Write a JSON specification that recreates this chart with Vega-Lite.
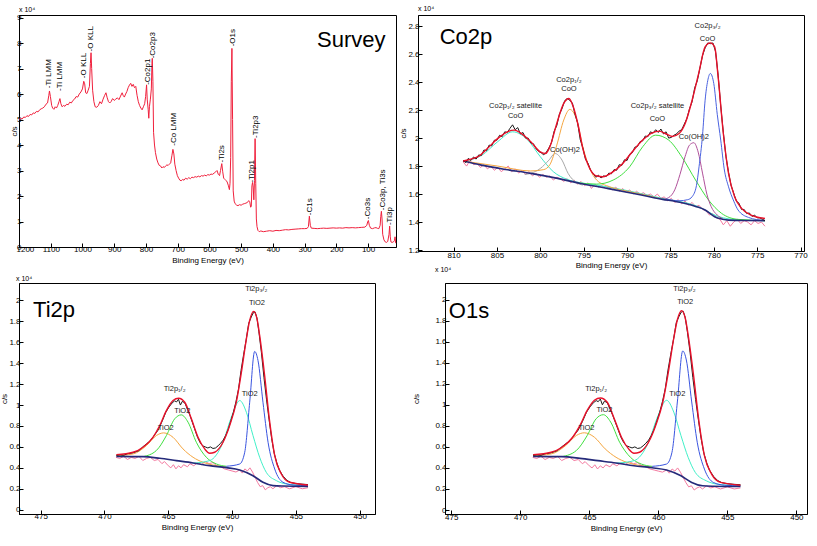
{
"$schema": "https://vega.github.io/schema/vega-lite/v6.json",
"padding": {"left": 0, "top": 4, "right": 0, "bottom": 0},
"background": "white",
"config": {
 "view": {"stroke": "black", "strokeWidth": 1},
 "axis": {"labelFont": "Liberation Sans", "labelFontSize": 8, "labelColor": "#000", "titleFont": "Liberation Sans", "titleFontSize": 8, "titleFontWeight": "normal", "titleColor": "#000", "domainColor": "#000", "tickColor": "#000", "tickSize": -4, "grid": false, "labelFlush": false, "labelOverlap": false, "tickCount": 40},
 "title": {"font": "Liberation Sans", "fontSize": 7, "fontWeight": "normal", "anchor": "start", "frame": "group", "color": "#000"},
 "text": {"font": "Liberation Sans", "fontSize": 7.5, "color": "#222"}
},
"datasets": {
 "big": [
  {"p": "survey", "t": "Survey", "x": 261, "y": 7.85},
  {"p": "co", "t": "Co2p", "x": 811.6, "y": 2.676},
  {"p": "ti", "t": "Ti2p", "x": 475.6, "y": 1.84},
  {"p": "o", "t": "O1s", "x": 475.17, "y": 1.83}
 ],
 "sv_lab": [
  {"t": "-Ti LMM", "x": 1104, "y": 6.23},
  {"t": "-Ti LMM", "x": 1070, "y": 6.12},
  {"t": "-O KLL", "x": 994, "y": 6.62},
  {"t": "-O KLL", "x": 973, "y": 7.67},
  {"t": "-Co2p1", "x": 795, "y": 6.36},
  {"t": "-Co2p3", "x": 779, "y": 7.4},
  {"t": "-Co LMM", "x": 710, "y": 3.97},
  {"t": "-Ti2s", "x": 561, "y": 3.31},
  {"t": "-O1s", "x": 527, "y": 7.87},
  {"t": "-Ti2p1", "x": 466, "y": 2.53},
  {"t": "-Ti2p3", "x": 453, "y": 4.28},
  {"t": "-C1s", "x": 282, "y": 1.25},
  {"t": "-Co3s", "x": 101, "y": 1.09},
  {"t": "-Co3p, Ti3s", "x": 54, "y": 1.44},
  {"t": "-Ti3p", "x": 30, "y": 0.86}
 ],
 "co_lab": [
  {"t": "Co2p₁/₂ satellite", "x": 802.85, "y": 2.229},
  {"t": "CoO", "x": 802.85, "y": 2.16},
  {"t": "Co2p₁/₂", "x": 796.7, "y": 2.414},
  {"t": "CoO", "x": 796.7, "y": 2.35},
  {"t": "Co(OH)2", "x": 797.15, "y": 1.912},
  {"t": "Co2p₃/₂ satellite", "x": 786.5, "y": 2.229},
  {"t": "CoO", "x": 786.5, "y": 2.136},
  {"t": "Co(OH)2", "x": 782.3, "y": 2.005},
  {"t": "Co2p₃/₂", "x": 780.72, "y": 2.80},
  {"t": "CoO", "x": 780.72, "y": 2.705}
 ],
 "ti_lab": [
  {"t": "Ti2p₃/₂", "x": 458.1, "y": 2.105},
  {"t": "TiO2", "x": 458.05, "y": 1.978},
  {"t": "Ti2p₁/₂", "x": 464.5, "y": 1.155},
  {"t": "TiO2", "x": 458.62, "y": 1.107},
  {"t": "TiO2", "x": 463.9, "y": 0.947},
  {"t": "TiO2", "x": 465.2, "y": 0.778}
 ],
 "survey": [
  {"x":1200,"y":5.0},{"x":1195,"y":5.05},{"x":1190,"y":5.02},{"x":1185,"y":5.1},{"x":1180,"y":5.08},{"x":1175,"y":5.15},{"x":1170,"y":5.12},{"x":1165,"y":5.2},{"x":1160,"y":5.18},{"x":1155,"y":5.26},{"x":1150,"y":5.24},{"x":1145,"y":5.32},{"x":1140,"y":5.3},{"x":1135,"y":5.38},{"x":1130,"y":5.42},{"x":1125,"y":5.45},{"x":1120,"y":5.5},{"x":1115,"y":5.6},{"x":1110,"y":5.65},{"x":1106,"y":5.95},{"x":1104,"y":6.12},{"x":1101,"y":5.9},{"x":1097,"y":5.55},{"x":1094,"y":5.45},{"x":1090,"y":5.4},{"x":1086,"y":5.5},{"x":1082,"y":5.45},{"x":1078,"y":5.55},{"x":1074,"y":5.7},{"x":1071,"y":5.82},{"x":1068,"y":5.62},{"x":1064,"y":5.5},{"x":1060,"y":5.55},{"x":1055,"y":5.52},{"x":1050,"y":5.6},{"x":1045,"y":5.58},{"x":1040,"y":5.68},{"x":1035,"y":5.65},{"x":1030,"y":5.75},{"x":1025,"y":5.8},{"x":1020,"y":5.9},{"x":1015,"y":5.88},{"x":1010,"y":6.0},{"x":1005,"y":6.08},{"x":1000,"y":6.2},{"x":996,"y":6.5},{"x":993,"y":6.4},{"x":990,"y":6.05},{"x":986,"y":6.02},{"x":982,"y":6.15},{"x":978,"y":6.3},{"x":975,"y":7.2},{"x":973,"y":7.62},{"x":971,"y":7.0},{"x":968,"y":6.15},{"x":964,"y":5.7},{"x":960,"y":5.5},{"x":955,"y":5.48},{"x":950,"y":5.55},{"x":945,"y":5.7},{"x":940,"y":5.62},{"x":935,"y":5.8},{"x":930,"y":5.95},{"x":926,"y":6.05},{"x":922,"y":5.85},{"x":918,"y":5.7},{"x":914,"y":5.65},{"x":910,"y":5.7},{"x":905,"y":5.82},{"x":900,"y":5.75},{"x":895,"y":5.8},{"x":890,"y":5.85},{"x":885,"y":5.78},{"x":880,"y":5.92},{"x":875,"y":6.05},{"x":872,"y":5.95},{"x":868,"y":5.88},{"x":864,"y":6.0},{"x":860,"y":6.1},{"x":856,"y":6.25},{"x":852,"y":6.35},{"x":848,"y":6.42},{"x":844,"y":6.3},{"x":840,"y":6.38},{"x":836,"y":6.25},{"x":832,"y":6.3},{"x":828,"y":5.95},{"x":824,"y":5.7},{"x":820,"y":5.55},{"x":816,"y":5.45},{"x":812,"y":5.38},{"x":808,"y":5.5},{"x":804,"y":5.62},{"x":801,"y":5.9},{"x":798,"y":6.36},{"x":796,"y":5.8},{"x":793,"y":5.4},{"x":791,"y":5.05},{"x":789,"y":5.5},{"x":786,"y":5.8},{"x":783,"y":6.2},{"x":781,"y":7.2},{"x":780,"y":7.4},{"x":778,"y":6.5},{"x":776,"y":4.5},{"x":773,"y":4.0},{"x":770,"y":3.7},{"x":766,"y":3.45},{"x":762,"y":3.3},{"x":758,"y":3.2},{"x":754,"y":3.18},{"x":750,"y":3.1},{"x":746,"y":3.15},{"x":742,"y":3.12},{"x":738,"y":3.18},{"x":734,"y":3.22},{"x":730,"y":3.2},{"x":726,"y":3.25},{"x":722,"y":3.3},{"x":718,"y":3.6},{"x":715,"y":3.83},{"x":712,"y":3.65},{"x":709,"y":3.25},{"x":705,"y":3.0},{"x":701,"y":2.8},{"x":697,"y":2.7},{"x":693,"y":2.62},{"x":689,"y":2.6},{"x":684,"y":2.65},{"x":680,"y":2.62},{"x":675,"y":2.7},{"x":670,"y":2.66},{"x":665,"y":2.72},{"x":660,"y":2.68},{"x":655,"y":2.74},{"x":650,"y":2.72},{"x":645,"y":2.76},{"x":640,"y":2.74},{"x":635,"y":2.78},{"x":630,"y":2.75},{"x":625,"y":2.8},{"x":620,"y":2.78},{"x":615,"y":2.82},{"x":610,"y":2.79},{"x":605,"y":2.84},{"x":600,"y":2.82},{"x":595,"y":2.86},{"x":590,"y":2.85},{"x":585,"y":2.9},{"x":580,"y":2.95},{"x":576,"y":3.0},{"x":572,"y":2.85},{"x":568,"y":2.8},{"x":565,"y":3.0},{"x":561,"y":3.27},{"x":558,"y":2.95},{"x":555,"y":2.7},{"x":551,"y":2.65},{"x":547,"y":2.6},{"x":544,"y":2.55},{"x":540,"y":2.4},{"x":537,"y":2.25},{"x":535,"y":2.5},{"x":533,"y":3.5},{"x":531,"y":6.5},{"x":529,"y":7.79},{"x":527,"y":5.0},{"x":525,"y":2.2},{"x":522,"y":1.8},{"x":519,"y":1.7},{"x":515,"y":1.65},{"x":510,"y":1.62},{"x":505,"y":1.66},{"x":500,"y":1.64},{"x":495,"y":1.68},{"x":490,"y":1.7},{"x":485,"y":1.72},{"x":480,"y":1.75},{"x":476,"y":1.82},{"x":473,"y":1.78},{"x":470,"y":1.56},{"x":468,"y":1.6},{"x":466,"y":2.4},{"x":464,"y":2.53},{"x":462,"y":2.35},{"x":460,"y":1.85},{"x":458,"y":2.6},{"x":456,"y":4.25},{"x":454,"y":2.5},{"x":452,"y":1.1},{"x":450,"y":0.8},{"x":447,"y":0.65},{"x":443,"y":0.6},{"x":438,"y":0.63},{"x":430,"y":0.6},{"x":420,"y":0.62},{"x":410,"y":0.64},{"x":400,"y":0.62},{"x":390,"y":0.65},{"x":380,"y":0.64},{"x":370,"y":0.66},{"x":360,"y":0.68},{"x":350,"y":0.67},{"x":340,"y":0.69},{"x":330,"y":0.7},{"x":320,"y":0.71},{"x":310,"y":0.72},{"x":300,"y":0.72},{"x":292,"y":0.73},{"x":288,"y":0.8},{"x":285,"y":1.21},{"x":282,"y":0.85},{"x":279,"y":0.74},{"x":270,"y":0.73},{"x":260,"y":0.72},{"x":250,"y":0.73},{"x":240,"y":0.74},{"x":230,"y":0.73},{"x":220,"y":0.74},{"x":210,"y":0.75},{"x":200,"y":0.74},{"x":190,"y":0.75},{"x":180,"y":0.74},{"x":170,"y":0.76},{"x":160,"y":0.75},{"x":150,"y":0.76},{"x":140,"y":0.75},{"x":130,"y":0.76},{"x":120,"y":0.77},{"x":110,"y":0.78},{"x":104,"y":0.85},{"x":101,"y":1.0},{"x":99,"y":1.04},{"x":96,"y":0.85},{"x":92,"y":0.74},{"x":86,"y":0.72},{"x":80,"y":0.75},{"x":75,"y":0.76},{"x":70,"y":0.73},{"x":66,"y":0.72},{"x":62,"y":0.85},{"x":60,"y":1.2},{"x":58,"y":1.4},{"x":56,"y":1.1},{"x":54,"y":0.5},{"x":50,"y":0.28},{"x":46,"y":0.2},{"x":42,"y":0.18},{"x":38,"y":0.22},{"x":34,"y":0.5},{"x":32,"y":0.82},{"x":30,"y":0.4},{"x":28,"y":0.2},{"x":24,"y":0.18},{"x":20,"y":0.2},{"x":17,"y":0.25},{"x":15,"y":0.4},{"x":13,"y":0.15}
 ],
 "co": [
  {"s":"fit","x":808.9,"y":1.836},{"s":"fit","x":808.0,"y":1.85},{"s":"fit","x":807.2,"y":1.867},{"s":"fit","x":806.1,"y":1.926},{"s":"fit","x":804.9,"y":1.998},{"s":"fit","x":803.8,"y":2.045},{"s":"fit","x":803.0,"y":2.057},{"s":"fit","x":802.3,"y":2.038},{"s":"fit","x":801.1,"y":1.974},{"s":"fit","x":800.0,"y":1.902},{"s":"fit","x":799.4,"y":1.89},{"s":"fit","x":798.9,"y":1.938},{"s":"fit","x":798.1,"y":2.105},{"s":"fit","x":797.3,"y":2.248},{"s":"fit","x":796.7,"y":2.283},{"s":"fit","x":796.2,"y":2.224},{"s":"fit","x":795.6,"y":2.081},{"s":"fit","x":795.1,"y":1.926},{"s":"fit","x":794.3,"y":1.783},{"s":"fit","x":793.5,"y":1.729},{"s":"fit","x":792.8,"y":1.724},{"s":"fit","x":791.6,"y":1.76},{"s":"fit","x":790.5,"y":1.819},{"s":"fit","x":789.4,"y":1.902},{"s":"fit","x":788.2,"y":1.986},{"s":"fit","x":787.1,"y":2.038},{"s":"fit","x":786.3,"y":2.05},{"s":"fit","x":785.6,"y":2.033},{"s":"fit","x":784.8,"y":2.012},{"s":"fit","x":784.0,"y":2.033},{"s":"fit","x":783.3,"y":2.105},{"s":"fit","x":782.5,"y":2.271},{"s":"fit","x":781.7,"y":2.474},{"s":"fit","x":781.0,"y":2.652},{"s":"fit","x":780.4,"y":2.681},{"s":"fit","x":779.9,"y":2.652},{"s":"fit","x":779.5,"y":2.438},{"s":"fit","x":778.9,"y":2.033},{"s":"fit","x":778.3,"y":1.748},{"s":"fit","x":777.6,"y":1.581},{"s":"fit","x":776.8,"y":1.498},{"s":"fit","x":775.7,"y":1.45},{"s":"fit","x":774.1,"y":1.426},
  {"s":"raw","x":808.9,"y":1.84},{"s":"raw","x":808.6,"y":1.825},{"s":"raw","x":808.3,"y":1.855},{"s":"raw","x":808.0,"y":1.84},{"s":"raw","x":807.7,"y":1.865},{"s":"raw","x":807.4,"y":1.85},{"s":"raw","x":807.1,"y":1.88},{"s":"raw","x":806.8,"y":1.875},{"s":"raw","x":806.5,"y":1.915},{"s":"raw","x":806.2,"y":1.91},{"s":"raw","x":805.9,"y":1.95},{"s":"raw","x":805.6,"y":1.945},{"s":"raw","x":805.3,"y":1.985},{"s":"raw","x":805.0,"y":1.985},{"s":"raw","x":804.7,"y":2.02},{"s":"raw","x":804.4,"y":2.01},{"s":"raw","x":804.1,"y":2.045},{"s":"raw","x":803.8,"y":2.04},{"s":"raw","x":803.5,"y":2.07},{"s":"raw","x":803.2,"y":2.095},{"s":"raw","x":802.9,"y":2.06},{"s":"raw","x":802.6,"y":2.075},{"s":"raw","x":802.3,"y":2.03},{"s":"raw","x":802.0,"y":2.04},{"s":"raw","x":801.7,"y":2.0},{"s":"raw","x":801.4,"y":2.0},{"s":"raw","x":801.1,"y":1.965},{"s":"raw","x":800.8,"y":1.96},{"s":"raw","x":800.5,"y":1.925},{"s":"raw","x":800.2,"y":1.905},{"s":"raw","x":799.9,"y":1.895},{"s":"raw","x":799.6,"y":1.88},{"s":"raw","x":799.3,"y":1.9},{"s":"raw","x":799.0,"y":1.93},{"s":"raw","x":798.7,"y":1.97},{"s":"raw","x":798.4,"y":2.05},{"s":"raw","x":798.1,"y":2.09},{"s":"raw","x":797.8,"y":2.17},{"s":"raw","x":797.5,"y":2.21},{"s":"raw","x":797.2,"y":2.265},{"s":"raw","x":796.9,"y":2.285},{"s":"raw","x":796.6,"y":2.27},{"s":"raw","x":796.3,"y":2.25},{"s":"raw","x":796.0,"y":2.17},{"s":"raw","x":795.7,"y":2.11},{"s":"raw","x":795.4,"y":1.99},{"s":"raw","x":795.1,"y":1.93},{"s":"raw","x":794.8,"y":1.85},{"s":"raw","x":794.5,"y":1.82},{"s":"raw","x":794.2,"y":1.77},{"s":"raw","x":793.9,"y":1.745},{"s":"raw","x":793.6,"y":1.72},{"s":"raw","x":793.3,"y":1.735},{"s":"raw","x":793.0,"y":1.715},{"s":"raw","x":792.7,"y":1.73},{"s":"raw","x":792.4,"y":1.725},{"s":"raw","x":792.1,"y":1.75},{"s":"raw","x":791.8,"y":1.745},{"s":"raw","x":791.5,"y":1.775},{"s":"raw","x":791.2,"y":1.77},{"s":"raw","x":790.9,"y":1.81},{"s":"raw","x":790.6,"y":1.805},{"s":"raw","x":790.3,"y":1.845},{"s":"raw","x":790.0,"y":1.84},{"s":"raw","x":789.7,"y":1.885},{"s":"raw","x":789.4,"y":1.895},{"s":"raw","x":789.1,"y":1.935},{"s":"raw","x":788.8,"y":1.94},{"s":"raw","x":788.5,"y":1.975},{"s":"raw","x":788.2,"y":1.98},{"s":"raw","x":787.9,"y":2.015},{"s":"raw","x":787.6,"y":2.01},{"s":"raw","x":787.3,"y":2.045},{"s":"raw","x":787.0,"y":2.035},{"s":"raw","x":786.7,"y":2.06},{"s":"raw","x":786.4,"y":2.04},{"s":"raw","x":786.1,"y":2.065},{"s":"raw","x":785.8,"y":2.03},{"s":"raw","x":785.5,"y":2.045},{"s":"raw","x":785.2,"y":2.0},{"s":"raw","x":784.9,"y":2.005},{"s":"raw","x":784.6,"y":2.02},{"s":"raw","x":784.3,"y":2.03},{"s":"raw","x":784.0,"y":2.05},{"s":"raw","x":783.7,"y":2.06},{"s":"raw","x":783.4,"y":2.1},{"s":"raw","x":783.1,"y":2.14},{"s":"raw","x":782.8,"y":2.21},{"s":"raw","x":782.5,"y":2.26},{"s":"raw","x":782.2,"y":2.36},{"s":"raw","x":781.9,"y":2.41},{"s":"raw","x":781.6,"y":2.5},{"s":"raw","x":781.3,"y":2.59},{"s":"raw","x":781.0,"y":2.645},{"s":"raw","x":780.7,"y":2.68},{"s":"raw","x":780.4,"y":2.675},{"s":"raw","x":780.1,"y":2.68},{"s":"raw","x":779.8,"y":2.62},{"s":"raw","x":779.5,"y":2.45},{"s":"raw","x":779.2,"y":2.23},{"s":"raw","x":778.9,"y":2.04},{"s":"raw","x":778.6,"y":1.87},{"s":"raw","x":778.3,"y":1.755},{"s":"raw","x":778.0,"y":1.66},{"s":"raw","x":777.7,"y":1.605},{"s":"raw","x":777.4,"y":1.55},{"s":"raw","x":777.1,"y":1.535},{"s":"raw","x":776.8,"y":1.49},{"s":"raw","x":776.5,"y":1.49},{"s":"raw","x":776.2,"y":1.46},{"s":"raw","x":775.9,"y":1.465},{"s":"raw","x":775.6,"y":1.44},{"s":"raw","x":775.3,"y":1.45},{"s":"raw","x":775.0,"y":1.43},{"s":"raw","x":774.7,"y":1.43},{"s":"raw","x":774.4,"y":1.42},{"s":"raw","x":774.1,"y":1.41},
  {"s":"bg","x":808.9,"y":1.836},{"s":"bg","x":806.8,"y":1.807},{"s":"bg","x":804.0,"y":1.776},{"s":"bg","x":801.1,"y":1.748},{"s":"bg","x":798.0,"y":1.712},{"s":"bg","x":795.4,"y":1.676},{"s":"bg","x":792.5,"y":1.643},{"s":"bg","x":789.7,"y":1.61},{"s":"bg","x":787.8,"y":1.586},{"s":"bg","x":785.9,"y":1.562},{"s":"bg","x":784.5,"y":1.548},{"s":"bg","x":783.3,"y":1.533},{"s":"bg","x":782.0,"y":1.51},{"s":"bg","x":781.0,"y":1.486},{"s":"bg","x":780.3,"y":1.455},{"s":"bg","x":779.9,"y":1.438},{"s":"bg","x":779.0,"y":1.42},{"s":"bg","x":778.3,"y":1.414},{"s":"bg","x":776.0,"y":1.411},{"s":"bg","x":774.1,"y":1.41},
  {"s":"res","x":808.9,"y":1.83},{"s":"res","x":808.5,"y":1.8},{"s":"res","x":808.1,"y":1.84},{"s":"res","x":807.7,"y":1.81},{"s":"res","x":807.3,"y":1.82},{"s":"res","x":806.9,"y":1.79},{"s":"res","x":806.5,"y":1.81},{"s":"res","x":806.1,"y":1.78},{"s":"res","x":805.7,"y":1.8},{"s":"res","x":805.3,"y":1.77},{"s":"res","x":804.9,"y":1.79},{"s":"res","x":804.5,"y":1.76},{"s":"res","x":804.1,"y":1.78},{"s":"res","x":803.7,"y":1.8},{"s":"res","x":803.3,"y":1.76},{"s":"res","x":802.9,"y":1.78},{"s":"res","x":802.5,"y":1.75},{"s":"res","x":802.1,"y":1.77},{"s":"res","x":801.7,"y":1.74},{"s":"res","x":801.3,"y":1.76},{"s":"res","x":800.9,"y":1.73},{"s":"res","x":800.5,"y":1.75},{"s":"res","x":800.1,"y":1.72},{"s":"res","x":799.7,"y":1.74},{"s":"res","x":799.3,"y":1.72},{"s":"res","x":798.9,"y":1.73},{"s":"res","x":798.5,"y":1.7},{"s":"res","x":798.1,"y":1.72},{"s":"res","x":797.7,"y":1.71},{"s":"res","x":797.3,"y":1.69},{"s":"res","x":796.9,"y":1.71},{"s":"res","x":796.5,"y":1.68},{"s":"res","x":796.1,"y":1.7},{"s":"res","x":795.7,"y":1.67},{"s":"res","x":795.3,"y":1.69},{"s":"res","x":794.9,"y":1.66},{"s":"res","x":794.5,"y":1.68},{"s":"res","x":794.1,"y":1.64},{"s":"res","x":793.7,"y":1.67},{"s":"res","x":793.3,"y":1.65},{"s":"res","x":792.9,"y":1.66},{"s":"res","x":792.5,"y":1.64},{"s":"res","x":792.1,"y":1.65},{"s":"res","x":791.7,"y":1.63},{"s":"res","x":791.3,"y":1.65},{"s":"res","x":790.9,"y":1.62},{"s":"res","x":790.5,"y":1.64},{"s":"res","x":790.1,"y":1.61},{"s":"res","x":789.7,"y":1.63},{"s":"res","x":789.3,"y":1.6},{"s":"res","x":788.9,"y":1.62},{"s":"res","x":788.5,"y":1.6},{"s":"res","x":788.1,"y":1.61},{"s":"res","x":787.7,"y":1.59},{"s":"res","x":787.3,"y":1.6},{"s":"res","x":786.9,"y":1.58},{"s":"res","x":786.5,"y":1.6},{"s":"res","x":786.1,"y":1.57},{"s":"res","x":785.7,"y":1.58},{"s":"res","x":785.3,"y":1.55},{"s":"res","x":784.9,"y":1.57},{"s":"res","x":784.5,"y":1.54},{"s":"res","x":784.1,"y":1.56},{"s":"res","x":783.7,"y":1.53},{"s":"res","x":783.3,"y":1.55},{"s":"res","x":782.9,"y":1.52},{"s":"res","x":782.5,"y":1.54},{"s":"res","x":782.1,"y":1.51},{"s":"res","x":781.7,"y":1.52},{"s":"res","x":781.3,"y":1.49},{"s":"res","x":780.9,"y":1.48},{"s":"res","x":780.5,"y":1.45},{"s":"res","x":780.1,"y":1.46},{"s":"res","x":779.7,"y":1.43},{"s":"res","x":779.3,"y":1.42},{"s":"res","x":778.9,"y":1.38},{"s":"res","x":778.5,"y":1.41},{"s":"res","x":778.1,"y":1.37},{"s":"res","x":777.7,"y":1.4},{"s":"res","x":777.3,"y":1.42},{"s":"res","x":776.9,"y":1.39},{"s":"res","x":776.5,"y":1.41},{"s":"res","x":776.1,"y":1.4},{"s":"res","x":775.7,"y":1.38},{"s":"res","x":775.3,"y":1.41},{"s":"res","x":774.9,"y":1.39},{"s":"res","x":774.5,"y":1.4},{"s":"res","x":774.1,"y":1.37},
  {"s":"sat1","x":808.9,"y":1.836},{"s":"sat1","x":806.8,"y":1.875},{"s":"sat1","x":804.9,"y":1.975},{"s":"sat1","x":803.2,"y":2.045},{"s":"sat1","x":801.5,"y":1.99},{"s":"sat1","x":800.0,"y":1.867},{"s":"sat1","x":798.5,"y":1.76},{"s":"sat1","x":796.9,"y":1.705},{"s":"sat1","x":795.4,"y":1.681},{"s":"sat1","x":793.5,"y":1.664},{"s":"sat1","x":790.0,"y":1.625},{"s":"sat1","x":786.0,"y":1.57},{"s":"sat1","x":782.0,"y":1.515},{"s":"sat1","x":779.5,"y":1.44},{"s":"sat1","x":777.0,"y":1.415},{"s":"sat1","x":774.1,"y":1.41},
  {"s":"oh1","x":801.8,"y":1.74},{"s":"oh1","x":801.1,"y":1.748},{"s":"oh1","x":800.0,"y":1.783},{"s":"oh1","x":799.0,"y":1.843},{"s":"oh1","x":798.3,"y":1.89},{"s":"oh1","x":797.5,"y":1.843},{"s":"oh1","x":796.8,"y":1.748},{"s":"oh1","x":795.8,"y":1.681},{"s":"oh1","x":795.1,"y":1.664},
  {"s":"p12","x":808.9,"y":1.836},{"s":"p12","x":804.9,"y":1.8},{"s":"p12","x":801.1,"y":1.765},{"s":"p12","x":799.6,"y":1.775},{"s":"p12","x":798.9,"y":1.81},{"s":"p12","x":798.1,"y":1.95},{"s":"p12","x":797.3,"y":2.129},{"s":"p12","x":796.6,"y":2.205},{"s":"p12","x":795.8,"y":2.129},{"s":"p12","x":795.1,"y":1.938},{"s":"p12","x":794.3,"y":1.783},{"s":"p12","x":793.5,"y":1.7},{"s":"p12","x":792.0,"y":1.652},{"s":"p12","x":789.7,"y":1.617},{"s":"p12","x":787.4,"y":1.586},{"s":"p12","x":785.9,"y":1.562},
  {"s":"sat3","x":795.8,"y":1.681},{"s":"sat3","x":793.5,"y":1.671},{"s":"sat3","x":791.6,"y":1.7},{"s":"sat3","x":789.7,"y":1.795},{"s":"sat3","x":788.2,"y":1.938},{"s":"sat3","x":786.7,"y":2.021},{"s":"sat3","x":785.2,"y":1.986},{"s":"sat3","x":783.7,"y":1.867},{"s":"sat3","x":782.1,"y":1.7},{"s":"sat3","x":780.6,"y":1.557},{"s":"sat3","x":779.1,"y":1.462},{"s":"sat3","x":777.2,"y":1.419},{"s":"sat3","x":774.1,"y":1.41},
  {"s":"oh3","x":785.9,"y":1.562},{"s":"oh3","x":785.2,"y":1.575},{"s":"oh3","x":784.5,"y":1.63},{"s":"oh3","x":783.9,"y":1.74},{"s":"oh3","x":783.3,"y":1.87},{"s":"oh3","x":782.8,"y":1.95},{"s":"oh3","x":782.3,"y":1.967},{"s":"oh3","x":781.8,"y":1.9},{"s":"oh3","x":781.3,"y":1.75},{"s":"oh3","x":780.8,"y":1.6},{"s":"oh3","x":780.3,"y":1.51},{"s":"oh3","x":779.6,"y":1.45},{"s":"oh3","x":779.0,"y":1.425},
  {"s":"p32","x":785.5,"y":1.565},{"s":"p32","x":784.0,"y":1.552},{"s":"p32","x":783.0,"y":1.56},{"s":"p32","x":782.5,"y":1.581},{"s":"p32","x":782.0,"y":1.66},{"s":"p32","x":781.7,"y":1.795},{"s":"p32","x":781.3,"y":2.02},{"s":"p32","x":781.0,"y":2.271},{"s":"p32","x":780.7,"y":2.41},{"s":"p32","x":780.4,"y":2.462},{"s":"p32","x":780.0,"y":2.39},{"s":"p32","x":779.6,"y":2.17},{"s":"p32","x":779.2,"y":1.986},{"s":"p32","x":778.8,"y":1.78},{"s":"p32","x":778.3,"y":1.652},{"s":"p32","x":777.7,"y":1.55},{"s":"p32","x":777.2,"y":1.486},{"s":"p32","x":776.0,"y":1.433},{"s":"p32","x":774.1,"y":1.41}
 ],
 "ti": [
  {"s":"fit","x":469.07,"y":0.526},{"s":"fit","x":467.76,"y":0.549},{"s":"fit","x":466.98,"y":0.597},{"s":"fit","x":466.2,"y":0.692},{"s":"fit","x":465.67,"y":0.804},{"s":"fit","x":465.15,"y":0.947},{"s":"fit","x":464.63,"y":1.043},{"s":"fit","x":464.19,"y":1.065},{"s":"fit","x":463.71,"y":1.027},{"s":"fit","x":463.19,"y":0.868},{"s":"fit","x":462.67,"y":0.692},{"s":"fit","x":462.15,"y":0.581},{"s":"fit","x":461.76,"y":0.539},{"s":"fit","x":461.36,"y":0.549},{"s":"fit","x":460.71,"y":0.644},{"s":"fit","x":460.19,"y":0.804},{"s":"fit","x":459.67,"y":1.027},{"s":"fit","x":459.27,"y":1.314},{"s":"fit","x":458.88,"y":1.633},{"s":"fit","x":458.62,"y":1.809},{"s":"fit","x":458.31,"y":1.895},{"s":"fit","x":458.05,"y":1.825},{"s":"fit","x":457.84,"y":1.665},{"s":"fit","x":457.45,"y":1.282},{"s":"fit","x":457.05,"y":0.836},{"s":"fit","x":456.66,"y":0.517},{"s":"fit","x":456.14,"y":0.341},{"s":"fit","x":455.49,"y":0.262},{"s":"fit","x":454.05,"y":0.236},
  {"s":"raw","x":469.07,"y":0.52},{"s":"raw","x":468.8,"y":0.525},{"s":"raw","x":468.5,"y":0.52},{"s":"raw","x":468.2,"y":0.535},{"s":"raw","x":467.9,"y":0.54},{"s":"raw","x":467.6,"y":0.55},{"s":"raw","x":467.3,"y":0.565},{"s":"raw","x":467.0,"y":0.6},{"s":"raw","x":466.7,"y":0.63},{"s":"raw","x":466.4,"y":0.66},{"s":"raw","x":466.1,"y":0.71},{"s":"raw","x":465.8,"y":0.76},{"s":"raw","x":465.5,"y":0.84},{"s":"raw","x":465.2,"y":0.93},{"s":"raw","x":464.95,"y":0.98},{"s":"raw","x":464.7,"y":1.02},{"s":"raw","x":464.5,"y":1.04},{"s":"raw","x":464.35,"y":1.03},{"s":"raw","x":464.2,"y":1.055},{"s":"raw","x":464.05,"y":1.0},{"s":"raw","x":463.9,"y":1.035},{"s":"raw","x":463.7,"y":1.02},{"s":"raw","x":463.5,"y":0.96},{"s":"raw","x":463.3,"y":0.9},{"s":"raw","x":463.1,"y":0.83},{"s":"raw","x":462.9,"y":0.76},{"s":"raw","x":462.7,"y":0.69},{"s":"raw","x":462.5,"y":0.64},{"s":"raw","x":462.3,"y":0.61},{"s":"raw","x":462.1,"y":0.6},{"s":"raw","x":461.9,"y":0.59},{"s":"raw","x":461.7,"y":0.6},{"s":"raw","x":461.5,"y":0.585},{"s":"raw","x":461.3,"y":0.59},{"s":"raw","x":461.1,"y":0.61},{"s":"raw","x":460.9,"y":0.635},{"s":"raw","x":460.7,"y":0.665},{"s":"raw","x":460.5,"y":0.71},{"s":"raw","x":460.3,"y":0.77},{"s":"raw","x":460.1,"y":0.85},{"s":"raw","x":459.9,"y":0.93},{"s":"raw","x":459.7,"y":1.03},{"s":"raw","x":459.5,"y":1.15},{"s":"raw","x":459.3,"y":1.33},{"s":"raw","x":459.1,"y":1.48},{"s":"raw","x":458.9,"y":1.62},{"s":"raw","x":458.7,"y":1.78},{"s":"raw","x":458.5,"y":1.84},{"s":"raw","x":458.35,"y":1.88},{"s":"raw","x":458.2,"y":1.89},{"s":"raw","x":458.05,"y":1.83},{"s":"raw","x":457.9,"y":1.7},{"s":"raw","x":457.7,"y":1.5},{"s":"raw","x":457.5,"y":1.26},{"s":"raw","x":457.3,"y":1.05},{"s":"raw","x":457.1,"y":0.86},{"s":"raw","x":456.9,"y":0.68},{"s":"raw","x":456.7,"y":0.54},{"s":"raw","x":456.5,"y":0.45},{"s":"raw","x":456.3,"y":0.38},{"s":"raw","x":456.0,"y":0.32},{"s":"raw","x":455.7,"y":0.28},{"s":"raw","x":455.4,"y":0.26},{"s":"raw","x":455.0,"y":0.25},{"s":"raw","x":454.6,"y":0.245},{"s":"raw","x":454.05,"y":0.24},
  {"s":"bg","x":469.07,"y":0.51},{"s":"bg","x":466.98,"y":0.507},{"s":"bg","x":465.67,"y":0.491},{"s":"bg","x":464.37,"y":0.469},{"s":"bg","x":463.06,"y":0.447},{"s":"bg","x":461.76,"y":0.421},{"s":"bg","x":460.45,"y":0.402},{"s":"bg","x":459.4,"y":0.38},{"s":"bg","x":458.36,"y":0.325},{"s":"bg","x":457.58,"y":0.262},{"s":"bg","x":456.79,"y":0.23},{"s":"bg","x":456.01,"y":0.226},{"s":"bg","x":454.05,"y":0.223},
  {"s":"res","x":469.1,"y":0.5},{"s":"res","x":468.8,"y":0.49},{"s":"res","x":468.5,"y":0.51},{"s":"res","x":468.2,"y":0.48},{"s":"res","x":467.9,"y":0.5},{"s":"res","x":467.6,"y":0.49},{"s":"res","x":467.3,"y":0.51},{"s":"res","x":467.0,"y":0.47},{"s":"res","x":466.7,"y":0.49},{"s":"res","x":466.4,"y":0.5},{"s":"res","x":466.1,"y":0.47},{"s":"res","x":465.8,"y":0.48},{"s":"res","x":465.5,"y":0.44},{"s":"res","x":465.3,"y":0.46},{"s":"res","x":465.0,"y":0.42},{"s":"res","x":464.8,"y":0.4},{"s":"res","x":464.6,"y":0.43},{"s":"res","x":464.4,"y":0.39},{"s":"res","x":464.2,"y":0.42},{"s":"res","x":464.0,"y":0.4},{"s":"res","x":463.8,"y":0.43},{"s":"res","x":463.5,"y":0.41},{"s":"res","x":463.3,"y":0.44},{"s":"res","x":463.0,"y":0.42},{"s":"res","x":462.7,"y":0.45},{"s":"res","x":462.4,"y":0.43},{"s":"res","x":462.1,"y":0.46},{"s":"res","x":461.8,"y":0.44},{"s":"res","x":461.5,"y":0.45},{"s":"res","x":461.2,"y":0.42},{"s":"res","x":460.9,"y":0.41},{"s":"res","x":460.6,"y":0.39},{"s":"res","x":460.3,"y":0.38},{"s":"res","x":460.0,"y":0.37},{"s":"res","x":459.7,"y":0.36},{"s":"res","x":459.4,"y":0.38},{"s":"res","x":459.2,"y":0.35},{"s":"res","x":459.0,"y":0.39},{"s":"res","x":458.8,"y":0.37},{"s":"res","x":458.6,"y":0.4},{"s":"res","x":458.4,"y":0.36},{"s":"res","x":458.2,"y":0.31},{"s":"res","x":458.0,"y":0.26},{"s":"res","x":457.8,"y":0.22},{"s":"res","x":457.6,"y":0.23},{"s":"res","x":457.4,"y":0.19},{"s":"res","x":457.2,"y":0.21},{"s":"res","x":457.0,"y":0.22},{"s":"res","x":456.8,"y":0.2},{"s":"res","x":456.5,"y":0.23},{"s":"res","x":456.2,"y":0.21},{"s":"res","x":455.9,"y":0.22},{"s":"res","x":455.5,"y":0.2},{"s":"res","x":455.0,"y":0.22},{"s":"res","x":454.5,"y":0.2},{"s":"res","x":454.05,"y":0.21},
  {"s":"c1","x":469.07,"y":0.517},{"s":"c1","x":467.76,"y":0.533},{"s":"c1","x":466.72,"y":0.612},{"s":"c1","x":465.94,"y":0.708},{"s":"c1","x":465.36,"y":0.734},{"s":"c1","x":464.63,"y":0.692},{"s":"c1","x":463.85,"y":0.581},{"s":"c1","x":463.06,"y":0.501},{"s":"c1","x":462.28,"y":0.453},{"s":"c1","x":461.49,"y":0.427},{"s":"c1","x":460.45,"y":0.405},
  {"s":"c2","x":466.98,"y":0.507},{"s":"c2","x":465.94,"y":0.565},{"s":"c2","x":465.15,"y":0.708},{"s":"c2","x":464.5,"y":0.868},{"s":"c2","x":463.98,"y":0.906},{"s":"c2","x":463.45,"y":0.836},{"s":"c2","x":462.8,"y":0.644},{"s":"c2","x":462.02,"y":0.501},{"s":"c2","x":461.23,"y":0.437},{"s":"c2","x":460.45,"y":0.415},
  {"s":"c3","x":463.06,"y":0.445},{"s":"c3","x":461.76,"y":0.469},{"s":"c3","x":460.71,"y":0.644},{"s":"c3","x":460.06,"y":0.884},{"s":"c3","x":459.4,"y":1.043},{"s":"c3","x":458.88,"y":0.931},{"s":"c3","x":458.36,"y":0.708},{"s":"c3","x":457.84,"y":0.501},{"s":"c3","x":457.32,"y":0.357},{"s":"c3","x":456.53,"y":0.278},{"s":"c3","x":455.75,"y":0.246},{"s":"c3","x":454.05,"y":0.23},
  {"s":"c4","x":460.45,"y":0.415},{"s":"c4","x":459.4,"y":0.437},{"s":"c4","x":459.01,"y":0.549},{"s":"c4","x":458.62,"y":1.027},{"s":"c4","x":458.23,"y":1.512},{"s":"c4","x":457.97,"y":1.426},{"s":"c4","x":457.58,"y":1.027},{"s":"c4","x":457.18,"y":0.644},{"s":"c4","x":456.66,"y":0.389},{"s":"c4","x":456.01,"y":0.262},{"s":"c4","x":455.22,"y":0.236},{"s":"c4","x":454.05,"y":0.23}
 ]
},
"spacing": -5,
"vconcat": [
 {"concat": [
  {"width": 377, "height": 232,
   "title": {"text": "x 10⁴", "offset": 1},
   "layer": [
    {"data": {"name": "survey"}, "mark": {"type": "line", "color": "#f0203c", "strokeWidth": 1},
     "encoding": {
      "x": {"field": "x", "type": "quantitative", "scale": {"domain": [12, 1200], "reverse": true, "nice": false, "zero": false}, "axis": {"values": [1200,1100,1000,900,800,700,600,500,400,300,200,100], "tickCount": 40, "format": "d", "labelOverlap": false, "labelFlush": true, "labelFlushOffset": 3, "title": "Binding Energy (eV)", "labelPadding": 2, "titlePadding": 3}},
      "y": {"field": "y", "type": "quantitative", "scale": {"domain": [0, 9.1], "nice": false, "zero": false}, "axis": {"values": [0,1,2,3,4,5,6,7,8,9], "tickCount": 40, "format": "d", "labelOverlap": false, "title": "c/s", "labelPadding": 2, "titlePadding": -2}}}},
    {"data": {"name": "sv_lab"}, "mark": {"type": "text", "angle": 270, "align": "left", "baseline": "middle", "fontSize": 8, "color": "#000"},
     "encoding": {"x": {"field": "x", "type": "quantitative"}, "y": {"field": "y", "type": "quantitative"}, "text": {"field": "t"}}},
    {"data": {"name": "big"}, "transform": [{"filter": "datum.p === 'survey'"}], "mark": {"type": "text", "align": "left", "baseline": "alphabetic", "fontSize": 22, "color": "#000"},
     "encoding": {"x": {"field": "x", "type": "quantitative"}, "y": {"field": "y", "type": "quantitative"}, "text": {"field": "t"}}}
   ]},
  {"width": 386, "height": 236,
   "title": {"text": "x 10⁴", "offset": 3},
   "layer": [
    {"data": {"name": "co"}, "transform": [{"filter": "datum.s === 'res'"}], "mark": {"type": "line", "color": "#f47aa0", "strokeWidth": 1},
     "encoding": {
      "x": {"field": "x", "type": "quantitative", "scale": {"domain": [769.6, 814.1], "reverse": true, "nice": false, "zero": false}, "axis": {"values": [810,805,800,795,790,785,780,775,770], "tickCount": 40, "format": "d", "labelOverlap": false, "title": "Binding Energy (eV)", "labelPadding": 4, "titlePadding": 2}},
      "y": {"field": "y", "type": "quantitative", "scale": {"domain": [1.193, 2.88], "nice": false, "zero": false}, "axis": {"values": [1.2,1.4,1.6,1.8,2,2.2,2.4,2.6,2.8], "tickCount": 40, "format": "~g", "labelOverlap": false, "title": "c/s", "labelPadding": 3, "titlePadding": 0}}}},
    {"data": {"name": "co"}, "transform": [{"filter": "datum.s !== 'res' && datum.s !== 'bg' && datum.s !== 'raw' && datum.s !== 'fit'"}], "mark": {"type": "line", "strokeWidth": 1, "interpolate": "monotone"},
     "encoding": {"x": {"field": "x", "type": "quantitative"}, "y": {"field": "y", "type": "quantitative"},
      "color": {"field": "s", "type": "nominal", "legend": null, "scale": {"domain": ["sat1","oh1","p12","sat3","oh3","p32","c1","c2","c3","c4"], "range": ["#40e8c8","#a8a8a8","#f5a640","#40e040","#b0509a","#4a62e0","#f5a640","#40e040","#40f0c8","#3a55e0"]}}}},
    {"data": {"name": "co"}, "transform": [{"filter": "datum.s === 'bg'"}], "mark": {"type": "line", "color": "#252a7a", "strokeWidth": 1.6, "interpolate": "monotone"},
     "encoding": {"x": {"field": "x", "type": "quantitative"}, "y": {"field": "y", "type": "quantitative"}}},
    {"data": {"name": "co"}, "transform": [{"filter": "datum.s === 'raw'"}], "mark": {"type": "line", "color": "#1a1a1a", "strokeWidth": 1},
     "encoding": {"x": {"field": "x", "type": "quantitative"}, "y": {"field": "y", "type": "quantitative"}}},
    {"data": {"name": "co"}, "transform": [{"filter": "datum.s === 'fit'"}], "mark": {"type": "line", "color": "#e8102a", "strokeWidth": 1.4, "interpolate": "monotone"},
     "encoding": {"x": {"field": "x", "type": "quantitative"}, "y": {"field": "y", "type": "quantitative"}}},
    {"data": {"name": "co_lab"}, "mark": {"type": "text", "align": "center", "baseline": "middle"},
     "encoding": {"x": {"field": "x", "type": "quantitative"}, "y": {"field": "y", "type": "quantitative"}, "text": {"field": "t"}}},
    {"data": {"name": "big"}, "transform": [{"filter": "datum.p === 'co'"}], "mark": {"type": "text", "align": "left", "baseline": "alphabetic", "fontSize": 22, "color": "#000"},
     "encoding": {"x": {"field": "x", "type": "quantitative"}, "y": {"field": "y", "type": "quantitative"}, "text": {"field": "t"}}}
   ]}
 ], "columns": 2, "align": "none", "center": false, "spacing": 0},
 {"concat": [
  {"width": 356, "height": 231,
   "title": {"text": "x 10⁴", "offset": 1, "dx": -3},
   "layer": [
    {"data": {"name": "ti"}, "transform": [{"filter": "datum.s === 'res'"}], "mark": {"type": "line", "color": "#f47aa0", "strokeWidth": 1},
     "encoding": {
      "x": {"field": "x", "type": "quantitative", "scale": {"domain": [448.8, 476.7], "reverse": true, "nice": false, "zero": false}, "axis": {"values": [475,470,465,460,455,450], "tickCount": 40, "format": "d", "labelOverlap": false, "title": "Binding Energy (eV)", "labelPadding": 2, "titlePadding": 3}},
      "y": {"field": "y", "type": "quantitative", "scale": {"domain": [-0.041, 2.166], "nice": false, "zero": false}, "axis": {"values": [0,0.2,0.4,0.6,0.8,1,1.2,1.4,1.6,1.8,2], "tickCount": 40, "format": "~g", "labelOverlap": false, "title": "c/s", "labelPadding": 3, "titlePadding": 0}}}},
    {"data": {"name": "ti"}, "transform": [{"filter": "datum.s !== 'res' && datum.s !== 'bg' && datum.s !== 'raw' && datum.s !== 'fit'"}], "mark": {"type": "line", "strokeWidth": 1, "interpolate": "monotone"},
     "encoding": {"x": {"field": "x", "type": "quantitative"}, "y": {"field": "y", "type": "quantitative"},
      "color": {"field": "s", "type": "nominal", "legend": null, "scale": {"domain": ["sat1","oh1","p12","sat3","oh3","p32","c1","c2","c3","c4"], "range": ["#40e8c8","#a8a8a8","#f5a640","#40e040","#b0509a","#4a62e0","#f5a640","#40e040","#40f0c8","#3a55e0"]}}}},
    {"data": {"name": "ti"}, "transform": [{"filter": "datum.s === 'bg'"}], "mark": {"type": "line", "color": "#252a7a", "strokeWidth": 1.6, "interpolate": "monotone"},
     "encoding": {"x": {"field": "x", "type": "quantitative"}, "y": {"field": "y", "type": "quantitative"}}},
    {"data": {"name": "ti"}, "transform": [{"filter": "datum.s === 'raw'"}], "mark": {"type": "line", "color": "#1a1a1a", "strokeWidth": 1},
     "encoding": {"x": {"field": "x", "type": "quantitative"}, "y": {"field": "y", "type": "quantitative"}}},
    {"data": {"name": "ti"}, "transform": [{"filter": "datum.s === 'fit'"}], "mark": {"type": "line", "color": "#e8102a", "strokeWidth": 1.4, "interpolate": "monotone"},
     "encoding": {"x": {"field": "x", "type": "quantitative"}, "y": {"field": "y", "type": "quantitative"}}},
    {"data": {"name": "ti_lab"}, "mark": {"type": "text", "align": "center", "baseline": "middle"},
     "encoding": {"x": {"field": "x", "type": "quantitative"}, "y": {"field": "y", "type": "quantitative"}, "text": {"field": "t"}}},
    {"data": {"name": "big"}, "transform": [{"filter": "datum.p === 'ti'"}], "mark": {"type": "text", "align": "left", "baseline": "alphabetic", "fontSize": 22, "color": "#000"},
     "encoding": {"x": {"field": "x", "type": "quantitative"}, "y": {"field": "y", "type": "quantitative"}, "text": {"field": "t"}}}
   ]},
  {"width": 362, "height": 231,
   "title": {"text": "x 10⁴", "offset": 10, "dx": -10},
   "layer": [
    {"data": {"name": "ti"}, "transform": [{"filter": "datum.s === 'res'"}], "mark": {"type": "line", "color": "#f47aa0", "strokeWidth": 1},
     "encoding": {
      "x": {"field": "x", "type": "quantitative", "scale": {"domain": [449.23, 475.45], "reverse": true, "nice": false, "zero": false}, "axis": {"values": [475,470,465,460,455,450], "tickCount": 40, "format": "d", "labelOverlap": false, "title": "Binding Energy (eV)", "labelPadding": 3, "titlePadding": 3}},
      "y": {"field": "y", "type": "quantitative", "scale": {"domain": [-0.038, 2.158], "nice": false, "zero": false}, "axis": {"values": [0,0.2,0.4,0.6,0.8,1,1.2,1.4,1.6,1.8,2], "tickCount": 40, "format": "~g", "labelOverlap": false, "title": "c/s", "labelPadding": 3, "titlePadding": 14}}}},
    {"data": {"name": "ti"}, "transform": [{"filter": "datum.s !== 'res' && datum.s !== 'bg' && datum.s !== 'raw' && datum.s !== 'fit'"}], "mark": {"type": "line", "strokeWidth": 1, "interpolate": "monotone"},
     "encoding": {"x": {"field": "x", "type": "quantitative"}, "y": {"field": "y", "type": "quantitative"},
      "color": {"field": "s", "type": "nominal", "legend": null, "scale": {"domain": ["sat1","oh1","p12","sat3","oh3","p32","c1","c2","c3","c4"], "range": ["#40e8c8","#a8a8a8","#f5a640","#40e040","#b0509a","#4a62e0","#f5a640","#40e040","#40f0c8","#3a55e0"]}}}},
    {"data": {"name": "ti"}, "transform": [{"filter": "datum.s === 'bg'"}], "mark": {"type": "line", "color": "#252a7a", "strokeWidth": 1.6, "interpolate": "monotone"},
     "encoding": {"x": {"field": "x", "type": "quantitative"}, "y": {"field": "y", "type": "quantitative"}}},
    {"data": {"name": "ti"}, "transform": [{"filter": "datum.s === 'raw'"}], "mark": {"type": "line", "color": "#1a1a1a", "strokeWidth": 1},
     "encoding": {"x": {"field": "x", "type": "quantitative"}, "y": {"field": "y", "type": "quantitative"}}},
    {"data": {"name": "ti"}, "transform": [{"filter": "datum.s === 'fit'"}], "mark": {"type": "line", "color": "#e8102a", "strokeWidth": 1.4, "interpolate": "monotone"},
     "encoding": {"x": {"field": "x", "type": "quantitative"}, "y": {"field": "y", "type": "quantitative"}}},
    {"data": {"name": "ti_lab"}, "mark": {"type": "text", "align": "center", "baseline": "middle"},
     "encoding": {"x": {"field": "x", "type": "quantitative"}, "y": {"field": "y", "type": "quantitative"}, "text": {"field": "t"}}},
    {"data": {"name": "big"}, "transform": [{"filter": "datum.p === 'o'"}], "mark": {"type": "text", "align": "left", "baseline": "alphabetic", "fontSize": 22, "color": "#000"},
     "encoding": {"x": {"field": "x", "type": "quantitative"}, "y": {"field": "y", "type": "quantitative"}, "text": {"field": "t"}}}
   ]}
 ], "columns": 2, "align": "none", "center": false, "spacing": 36}
]
}
